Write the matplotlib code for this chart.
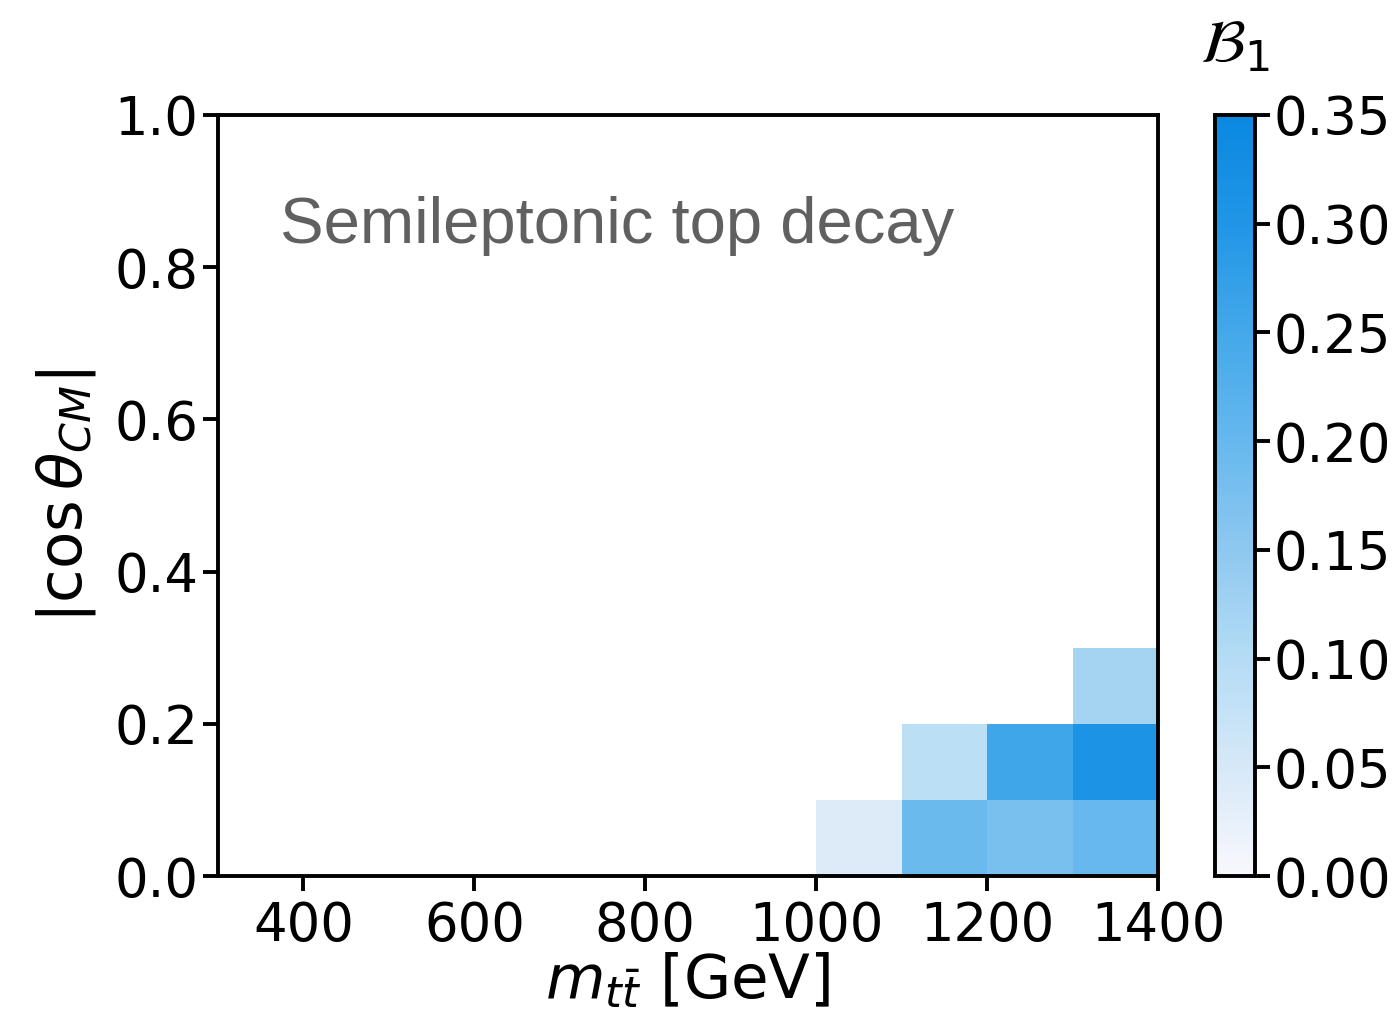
import numpy as np
import matplotlib
matplotlib.use("Agg")
import matplotlib.pyplot as plt
from matplotlib.colors import LinearSegmentedColormap

# bin edges
m_edges = np.arange(300, 1401, 100)
cos_edges = np.round(np.arange(0.0, 1.01, 0.1), 2)

# nonzero cells: (m bin low edge, cos bin low edge, value)
cell_m = [1000, 1100, 1100, 1200, 1200, 1300, 1300, 1300]
cell_cos = [0.0, 0.0, 0.1, 0.0, 0.1, 0.0, 0.1, 0.2]
cell_val = [0.04, 0.195, 0.09, 0.175, 0.255, 0.20, 0.31, 0.12]

B1 = np.zeros((len(cos_edges) - 1, len(m_edges) - 1))
for m, c, v in zip(cell_m, cell_cos, cell_val):
    i = int(round(c / 0.1))
    j = int(round((m - 300) / 100))
    B1[i, j] = v
B1 = np.ma.masked_equal(B1, 0.0)

cmap = LinearSegmentedColormap.from_list(
    "b1", ["#f8f8fd", "#d6e8f8", "#b4dcf4", "#8ec8f0",
           "#66b8ee", "#44a8ea", "#2196e6", "#0a88e0"])

plt.rcParams["font.family"] = "DejaVu Sans"
plt.rcParams["mathtext.fontset"] = "dejavusans"

fig = plt.figure(figsize=(13.95, 10.26), dpi=100)
ax = fig.add_axes([218 / 1395, 1 - 876 / 1026, 940 / 1395, 761 / 1026])
cax = fig.add_axes([1215 / 1395, 1 - 876 / 1026, 40 / 1395, 761 / 1026])

mesh = ax.pcolormesh(m_edges, cos_edges, B1, cmap=cmap, vmin=0, vmax=0.35)
ax.set_xlim(300, 1400)
ax.set_ylim(0, 1)
ax.set_xticks([400, 600, 800, 1000, 1200, 1400])
ax.set_yticks([0.0, 0.2, 0.4, 0.6, 0.8, 1.0])
ax.tick_params(labelsize=38, length=11, width=2.8, pad=6)
ax.tick_params(axis="y", pad=3)
for s in ax.spines.values():
    s.set_linewidth(2.8)
ax.set_xlabel(r"$m_{t\bar{t}}$ [GeV]", fontsize=44, labelpad=0)
ax.set_ylabel(r"$|\cos\theta_{CM}|$", fontsize=44, labelpad=12)

ax.text(62 / 940, (876 - 243) / 761, "Semileptonic top decay",
        transform=ax.transAxes, va="baseline", ha="left",
        fontsize=47, color="#606060", family="Liberation Sans")

cb = fig.colorbar(mesh, cax=cax, ticks=np.arange(0, 0.351, 0.05))
cb.ax.tick_params(labelsize=38, length=11, width=2.8, pad=2)
cb.outline.set_linewidth(2.8)
cb.ax.set_title(r"$\mathcal{B}_1$", fontsize=44, pad=38, loc="center")

fig.savefig("out.png", dpi=100)
